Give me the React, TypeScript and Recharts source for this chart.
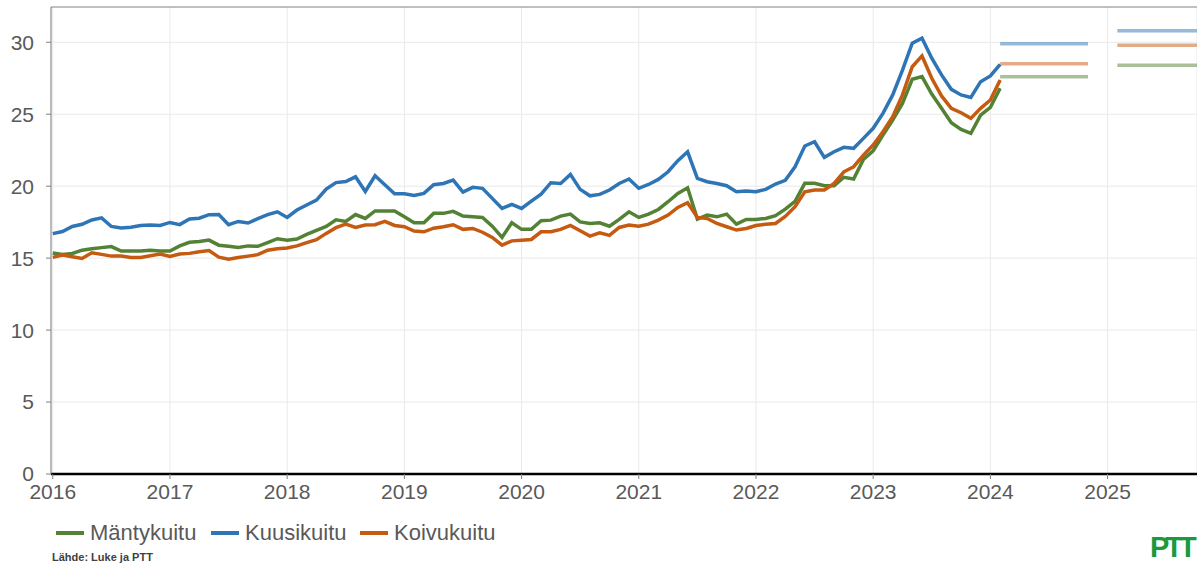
import React from "react";
import { LineChart, Line, XAxis, YAxis, CartesianGrid, ReferenceLine } from "recharts";

// Monthly series, Jan 2016 – Feb 2024 (€/m³)
const START_YEAR = 2016;

const mantykuitu = [
  15.35, 15.25, 15.32, 15.55, 15.65, 15.73, 15.8, 15.49, 15.49, 15.49, 15.55, 15.5,
  15.49, 15.85, 16.1, 16.15, 16.25, 15.9, 15.83, 15.74, 15.85, 15.82, 16.08, 16.35,
  16.25, 16.33, 16.65, 16.93, 17.2, 17.66, 17.55, 18.03, 17.76, 18.28, 18.28, 18.28,
  17.87, 17.46, 17.46, 18.11, 18.11, 18.25, 17.92, 17.87, 17.83, 17.22, 16.44, 17.46,
  17.0, 17.0, 17.6, 17.64, 17.92, 18.06, 17.52, 17.41, 17.46, 17.22, 17.69, 18.22,
  17.83, 18.06, 18.38, 18.92, 19.5, 19.89, 17.71, 17.99, 17.87, 18.06, 17.36, 17.69,
  17.69, 17.76, 17.95, 18.4, 18.95, 20.2, 20.2, 20.03, 20.03, 20.62, 20.5, 21.86,
  22.46, 23.55, 24.6, 25.75, 27.43, 27.61, 26.4, 25.41, 24.41, 23.95, 23.67, 24.94,
  25.48, 26.8,
];

const kuusikuitu = [
  16.7, 16.85, 17.2, 17.35, 17.65, 17.8, 17.2, 17.1, 17.15, 17.27, 17.3, 17.27,
  17.48, 17.33, 17.72, 17.77, 18.02, 18.03, 17.32, 17.55, 17.44, 17.74, 18.02, 18.22,
  17.83, 18.34, 18.69, 19.03, 19.8, 20.25, 20.32, 20.65, 19.63, 20.72, 20.1, 19.47,
  19.47, 19.36, 19.5, 20.1, 20.19, 20.42, 19.59, 19.92, 19.85, 19.15, 18.45, 18.73,
  18.45, 18.96, 19.45, 20.24, 20.19, 20.82, 19.78, 19.33, 19.43, 19.73, 20.19, 20.5,
  19.85, 20.12, 20.47, 21.0, 21.77, 22.39, 20.54, 20.31, 20.19, 20.03, 19.61, 19.66,
  19.61, 19.78, 20.15, 20.41, 21.35, 22.79, 23.09, 22.0, 22.39, 22.7, 22.63, 23.32,
  24.02, 25.06, 26.34, 28.07, 29.93, 30.28, 28.89, 27.73, 26.73, 26.34, 26.17, 27.26,
  27.66, 28.47,
];

const koivukuitu = [
  15.05, 15.21, 15.1, 14.98, 15.37, 15.26, 15.14, 15.14, 15.05, 15.05, 15.16, 15.28,
  15.12, 15.28, 15.33, 15.44, 15.53, 15.07, 14.93, 15.05, 15.14, 15.24, 15.55, 15.65,
  15.7, 15.85, 16.08, 16.28, 16.72, 17.12, 17.36, 17.13, 17.3, 17.32, 17.55, 17.27,
  17.18, 16.88, 16.83, 17.08, 17.18, 17.32, 17.0, 17.06, 16.8, 16.44, 15.9, 16.2,
  16.25, 16.3, 16.83, 16.83, 17.0, 17.27, 16.9, 16.53, 16.76, 16.58, 17.13, 17.3,
  17.22, 17.36, 17.64, 17.99, 18.52, 18.85, 17.83, 17.76, 17.41, 17.18, 16.95, 17.06,
  17.27, 17.36, 17.41, 17.9, 18.57, 19.61, 19.73, 19.73, 20.19, 21.0, 21.35, 22.16,
  22.86, 23.78, 24.83, 26.34, 28.3, 29.05, 27.5, 26.27, 25.41, 25.1, 24.71, 25.41,
  25.99, 27.38,
];

// Forecast periods (start / end as fractional years) and forecast levels
const forecastStart = [2024 + 1 / 12, 2025 + 1 / 12];
const forecastEnd = [2024 + 10 / 12, 2025 + 10 / 12];
const mantyForecast = [27.6, 28.4];
const kuusiForecast = [29.9, 30.8];
const koivuForecast = [28.5, 29.8];

const yearTicks = [2016, 2017, 2018, 2019, 2020, 2021, 2022, 2023, 2024, 2025];
const valueTicks = [0, 5, 10, 15, 20, 25, 30];

const seriesNames = ["Mäntykuitu", "Kuusikuitu", "Koivukuitu"];
const seriesColors = ["#548235", "#2E75B6", "#C55A11"];

const X_DOMAIN: [number, number] = [2015.985, 2025.763];
const Y_DOMAIN: [number, number] = [0, 32.45];

const mainData = mantykuitu.map((v, i) => ({
  x: START_YEAR + i / 12,
  manty: v,
  kuusi: kuusikuitu[i],
  koivu: koivukuitu[i],
}));

const forecastSets = [mantyForecast, kuusiForecast, koivuForecast];

const FONT = "'Liberation Sans', Arial, sans-serif";

export default function App() {
  const forecastLines: React.ReactNode[] = [];
  forecastSets.forEach((vals, s) => {
    vals.forEach((v, p) => {
      const d = [
        { x: forecastStart[p], f: v },
        { x: forecastEnd[p], f: v },
      ];
      forecastLines.push(
        <Line
          key={`f-${s}-${p}`}
          data={d}
          dataKey="f"
          type="linear"
          stroke={seriesColors[s]}
          strokeOpacity={0.5}
          strokeWidth={3.5}
          dot={false}
          activeDot={false}
          isAnimationActive={false}
          legendType="none"
        />
      );
    });
  });

  const legendLeft = [56, 211, 360];

  return (
    <div
      style={{
        position: "absolute",
        left: 0,
        top: 0,
        width: 1197,
        height: 565,
        overflow: "hidden",
        background: "#fff",
        fontFamily: FONT,
      }}
    >
      <LineChart
        width={1197}
        height={510}
        data={mainData}
        margin={{ top: 7, right: 0, bottom: 0, left: 0 }}
      >
        <CartesianGrid stroke="#e9e9e9" strokeWidth={1} />
        <XAxis
          dataKey="x"
          type="number"
          domain={X_DOMAIN}
          ticks={yearTicks}
          allowDataOverflow
          height={36}
          axisLine={{ stroke: "#000", strokeWidth: 2.5 }}
          tickLine={{ stroke: "#7f7f7f" }}
          tickSize={5}
          tickMargin={5}
          tick={{ fill: "#595959", fontSize: 21, fontFamily: FONT }}
        />
        <YAxis
          type="number"
          domain={Y_DOMAIN}
          ticks={valueTicks}
          allowDataOverflow
          width={51}
          axisLine={{ stroke: "#808080" }}
          tickLine={{ stroke: "#808080" }}
          tickSize={5}
          tickMargin={12}
          tick={{ fill: "#595959", fontSize: 21, fontFamily: FONT }}
        />
        <ReferenceLine y={Y_DOMAIN[1]} stroke="#8c8c8c" strokeWidth={1} />
        <Line
          dataKey="manty"
          type="linear"
          stroke={seriesColors[0]}
          strokeWidth={3.5}
          dot={false}
          isAnimationActive={false}
        />
        <Line
          dataKey="kuusi"
          type="linear"
          stroke={seriesColors[1]}
          strokeWidth={3.5}
          dot={false}
          isAnimationActive={false}
        />
        <Line
          dataKey="koivu"
          type="linear"
          stroke={seriesColors[2]}
          strokeWidth={3.5}
          dot={false}
          isAnimationActive={false}
        />
        {forecastLines}
      </LineChart>

      {seriesNames.map((name, i) => (
        <div
          key={name}
          style={{
            position: "absolute",
            left: legendLeft[i],
            top: 521,
            height: 24,
            display: "flex",
            alignItems: "center",
            whiteSpace: "nowrap",
          }}
        >
          <div style={{ width: 28, height: 4, background: seriesColors[i], marginRight: 6 }} />
          <span style={{ fontSize: 22, color: "#595959", fontFamily: FONT }}>{name}</span>
        </div>
      ))}

      <div
        style={{
          position: "absolute",
          left: 52,
          top: 551,
          fontSize: 11,
          fontWeight: "bold",
          color: "#404040",
          fontFamily: "'Liberation Sans Narrow', 'Arial Narrow', 'Liberation Sans', sans-serif",
          whiteSpace: "nowrap",
        }}
      >
        Lähde: Luke ja PTT
      </div>

      <div
        style={{
          position: "absolute",
          left: 1150,
          top: 532,
          fontSize: 29,
          fontWeight: 900,
          color: "#1a9a3c",
          letterSpacing: -4,
          fontFamily: FONT,
          whiteSpace: "nowrap",
          lineHeight: "30px",
        }}
      >
        PTT
      </div>
    </div>
  );
}
